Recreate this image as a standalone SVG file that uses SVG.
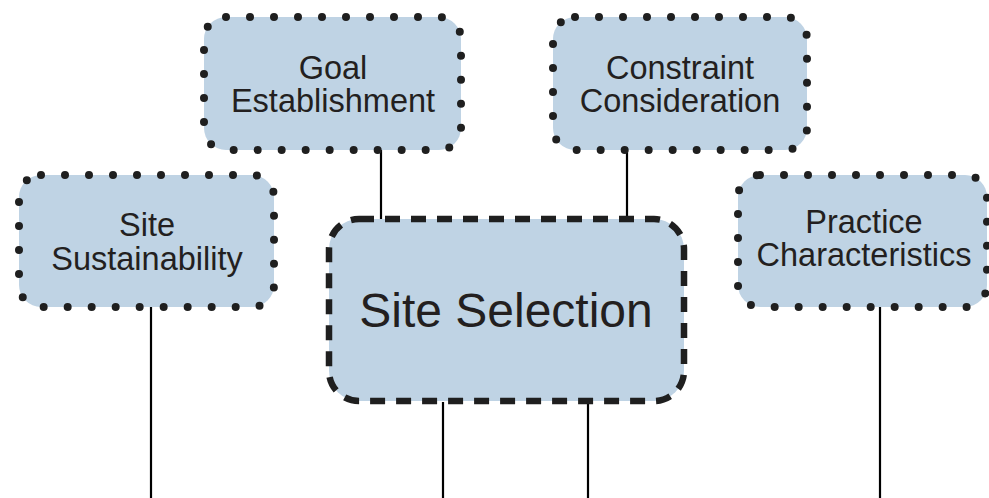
<svg xmlns="http://www.w3.org/2000/svg" width="989" height="498" viewBox="0 0 989 498">
<style>
.box{fill:#bfd3e4;stroke:#1f1f1f;stroke-width:8;stroke-linecap:round;stroke-dasharray:0 24;}
.main{fill:#bfd3e4;stroke:#1f1f1f;stroke-width:6.5;stroke-dasharray:15 11;}
.t{font-family:"Liberation Sans",Arial,sans-serif;font-size:32.5px;fill:#231f20;text-anchor:middle;}
.tm{font-family:"Liberation Sans",Arial,sans-serif;font-size:48px;fill:#231f20;text-anchor:middle;}
.c{stroke:#000;stroke-width:2.2;fill:none;}
</style>
<g id="connectors">
<line class="c" x1="381" y1="150" x2="381" y2="220"/>
<line class="c" x1="627" y1="150" x2="627" y2="220"/>
<line class="c" x1="151" y1="307" x2="151" y2="498"/>
<line class="c" x1="880" y1="307" x2="880" y2="498"/>
<line class="c" x1="443" y1="402" x2="443" y2="498"/>
<line class="c" x1="588" y1="402" x2="588" y2="498"/>
</g>
<g id="goal">
<rect class="box" x="204" y="17" width="257" height="133" rx="22"/>
<text class="t" x="333" y="79">Goal</text>
<text class="t" x="333" y="112">Establishment</text>
</g>
<g id="constraint">
<rect class="box" x="553" y="17" width="254" height="133" rx="22"/>
<text class="t" x="680" y="79">Constraint</text>
<text class="t" x="680" y="112">Consideration</text>
</g>
<g id="sustainability">
<rect class="box" x="19" y="175" width="255" height="132" rx="22"/>
<text class="t" x="147" y="236">Site</text>
<text class="t" x="147" y="270">Sustainability</text>
</g>
<g id="practice">
<rect class="box" x="738" y="175" width="249" height="132" rx="22"/>
<text class="t" x="864" y="233">Practice</text>
<text class="t" x="864" y="266">Characteristics</text>
</g>
<g id="selection">
<rect class="main" x="329" y="219" width="355" height="182" rx="30"/>
<text class="tm" x="506" y="327">Site Selection</text>
</g>
</svg>
